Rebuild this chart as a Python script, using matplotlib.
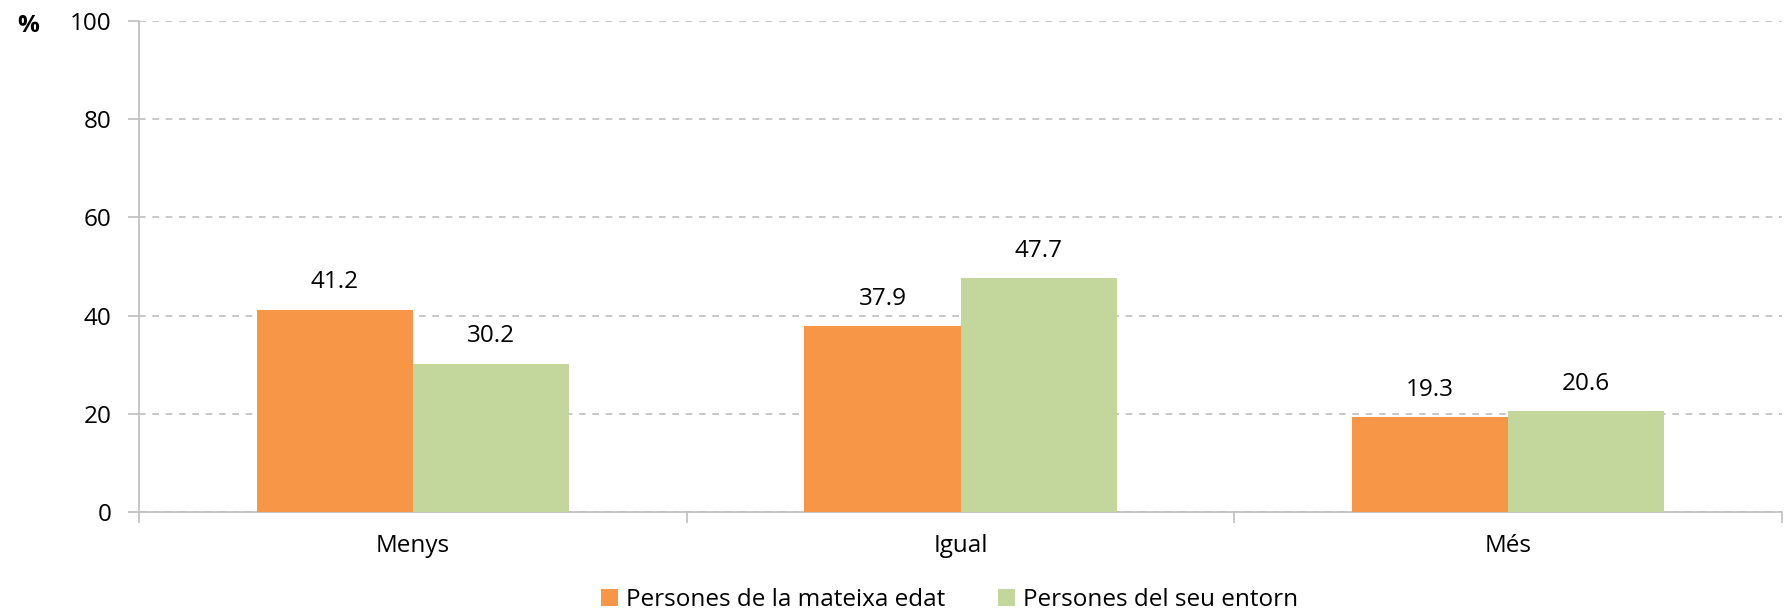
import numpy as np
import matplotlib.pyplot as plt
from matplotlib.ticker import FixedLocator

plt.rcParams['font.family'] = ['Open Sans', 'DejaVu Sans']

# Data
categories = ["Menys", "Igual", "Més"]
series_names = ["Persones de la mateixa edat", "Persones del seu entorn"]
same_age = [41.2, 37.9, 19.3]
environment = [30.2, 47.7, 20.6]

orange = "#F79646"
green = "#C3D69B"
grid_col = "#BFBFBF"
fs = 17.5

fig = plt.figure(figsize=(17.85, 6.12), dpi=100)
ax = fig.add_axes([0.0779, 0.1634, 0.9204, 0.8023])

x = np.arange(len(categories))
w = 0.285
b1 = ax.bar(x - w / 2, same_age, w, color=orange, label=series_names[0], zorder=3)
b2 = ax.bar(x + w / 2, environment, w, color=green, label=series_names[1], zorder=3)

for bars in (b1, b2):
    for r in bars:
        ax.annotate(f"{r.get_height():.1f}", (r.get_x() + r.get_width() / 2, r.get_height()),
                    xytext=(0, 11), textcoords="offset points", ha="center", va="bottom",
                    fontsize=fs, color="black")

ax.set_xlim(-0.5, len(categories) - 0.5)
ax.set_ylim(0, 100)
ax.set_yticks(np.arange(0, 101, 20))
ax.yaxis.grid(True, linestyle=(0, (4, 4)), color=grid_col, linewidth=1.2, zorder=0)

# category ticks at boundaries, labels centered
ax.xaxis.set_major_locator(FixedLocator(np.arange(-0.5, len(categories), 1.0)))
ax.set_xticklabels([])
ax.set_xticks(x, minor=True)
ax.set_xticklabels(categories, minor=True)
ax.tick_params(axis="x", which="minor", length=0, pad=16, labelsize=fs)
ax.tick_params(axis="x", which="major", length=8, color=grid_col, width=1.2)
ax.tick_params(axis="y", length=8, color=grid_col, width=1.2, labelsize=fs, pad=12)

for side in ("top", "right"):
    ax.spines[side].set_visible(False)
for side in ("left", "bottom"):
    ax.spines[side].set_color(grid_col)
    ax.spines[side].set_linewidth(1.2)

fig.text(0.0095, 0.958, "%", fontsize=fs, fontweight="bold", ha="left", va="center")

fig.legend(handles=[b1, b2], labels=series_names, loc="center",
           bbox_to_anchor=(0.532, 0.02), ncol=2, frameon=False,
           fontsize=fs, handlelength=0.7, handleheight=0.7, handletextpad=0.3,
           columnspacing=2.2, borderaxespad=0, borderpad=0)

fig.savefig("out.png", dpi=100)
